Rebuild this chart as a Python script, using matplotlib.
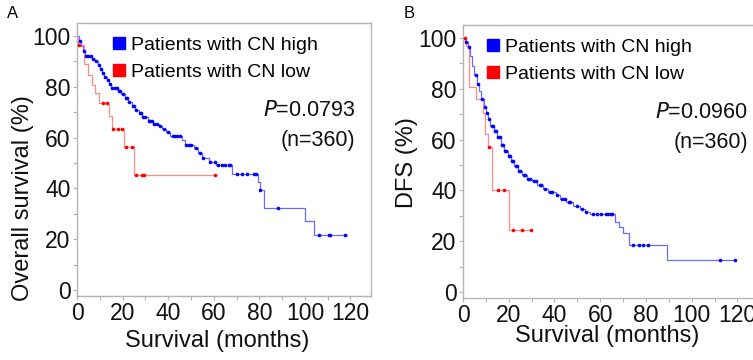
import numpy as np
import matplotlib
matplotlib.use("Agg")
import matplotlib.pyplot as plt
from matplotlib.lines import Line2D

plt.rcParams['font.family'] = ['Liberation Sans', 'DejaVu Sans']

# ---------------- Panel A: Overall survival ----------------
a_high_t = [0, 0.8, 1.8, 2.8, 3.5, 6.5, 8.0, 9.0, 10.0, 11.0, 12.0, 13.0, 14.0, 15.0, 18.0,
            19.5, 21.0, 22.5, 24.0, 25.5, 27.0, 28.5, 31.0, 33.5, 36.0, 37.5, 39.0, 41.0,
            46.0, 47.5, 51.5, 53.0, 55.0, 58.0, 61.0, 68.0, 79.3, 80.3, 82.0, 100.2, 103.9]
a_high_s = [100, 98, 96, 94, 92, 91, 90, 88.5, 87, 85.5, 84, 82.5, 81, 79.5, 78.5,
            77, 75.5, 74, 72.5, 71, 69.5, 68, 66.5, 65.5, 64.5, 63.2, 62, 60.5,
            59, 57.2, 56.0, 54.0, 52.0, 50.5, 49.0, 45.8, 42.5, 39.4, 32.2, 27.0, 21.6]
a_high_end = 118.5
a_high_cens = [1.5, 3, 4, 5, 6, 7, 8.5, 9.5, 10.5, 11.5, 12.5, 13.5, 14.5, 15.5, 16.5, 17.5,
               18.5, 19, 20, 21.5, 22, 23, 24.5, 25, 26, 27.5, 28, 29, 30, 31.5, 32, 33, 34,
               35, 36.5, 38, 40, 42, 43, 44, 45, 48, 49, 50, 52, 54, 55.5, 58.5, 60.7, 62,
               63.5, 65, 66.5, 67.3, 70.2, 72.4, 74.6, 77.8, 78.7, 80.4, 88, 106, 110.5,
               111.2, 117.8]

a_low_t = [0, 0.4, 3.1, 5.0, 6.4, 7.9, 9.8, 14.2, 15.5, 20.8, 24.8]
a_low_s = [100, 96.5, 89.0, 84.6, 80.7, 77.4, 73.5, 68.5, 63.4, 56.4, 45.3]
a_low_end = 60.5
a_low_cens = [0.8, 11.6, 13.0, 16.0, 18.2, 19.6, 21.4, 24.0, 26.0, 28.6, 29.6, 60.5]

# ---------------- Panel B: DFS ----------------
b_high_t = [0, 1.0, 2.0, 3.0, 4.0, 5.0, 6.0, 7.0, 8.0, 9.0, 10.0, 11.0, 12.0, 13.5, 15.0,
            16.5, 18.0, 19.5, 21.0, 22.5, 24.0, 26.0, 28.0, 30.0, 32.5, 35.0, 37.0, 40.5,
            42.5, 45.0, 48.0, 51.0, 53.5, 55.5, 66.4, 68.0, 70.0, 72.8, 89.4]
b_high_s = [100, 98.5, 96.5, 93, 89, 85.5, 82, 79, 76, 73, 70.5, 68, 65.5, 63.5, 61,
            58, 55.5, 53.5, 51.5, 49.5, 47.5, 46, 44.5, 43.5, 42, 40.5, 39.5, 38,
            36.5, 35.5, 34, 32.5, 31.5, 30.5, 27.7, 25.5, 23.1, 18.5, 12.6]
b_high_end = 118.9
b_high_cens = [1.5, 2.5, 5.5, 6.5, 8.5, 9.5, 10.5, 11.5, 12.5, 13, 14, 14.5, 15.5, 16, 17,
               17.5, 18.5, 19, 20, 20.5, 21.5, 22, 23, 23.5, 24.5, 25, 26.5, 27, 28.5, 29.5,
               31, 32, 33.5, 34, 36, 38, 39, 41, 43.5, 44.5, 46.5, 47, 50, 52, 54, 57, 58.5,
               60.5, 62.5, 63.5, 64.5, 65, 74.2, 77, 78.5, 80.7, 112.6, 118.9]

b_low_t = [0, 1.5, 2.8, 5.5, 8.6, 9.8, 11.0, 12.7, 20.3]
b_low_s = [100, 97, 80.6, 76.0, 70.5, 62.0, 57.2, 40.2, 24.4]
b_low_end = 29.7
b_low_cens = [1.0, 11.5, 15.2, 17.8, 21.8, 26.0, 29.7]

legend_labels = ["Patients with CN high", "Patients with CN low"]
panel_info = [
    dict(letter="A", ylabel="Overall survival (%)", p="0.0793", n="(n=360)"),
    dict(letter="B", ylabel="DFS (%)", p="0.0960", n="(n=360)"),
]

BLUE_LINE, BLUE_DOT = '#6b6bff', '#0000ff'
RED_LINE, RED_DOT = '#ff8a8a', '#ff0000'
SPINE = '#b4b4b4'
TXT = '#111111'


def km(ax, t, s, end, cens, lc, dc):
    tt = list(t) + [end]
    ss = list(s) + [s[-1]]
    ax.step(tt, ss, where='post', color=lc, lw=0.9, zorder=2)
    t_arr = np.array(t)
    idx = np.searchsorted(t_arr, np.array(cens), side='right') - 1
    cs = np.array(s)[idx]
    ax.plot(cens, cs, linestyle='none', marker='o', ms=2.6, mec=dc, mfc=dc, mew=0, zorder=3)


fig = plt.figure(figsize=(7.53, 3.60), dpi=100)
axA = fig.add_axes([77 / 753, 64 / 360, 294 / 753, 273 / 360])
axB = fig.add_axes([463 / 753, 62 / 360, 295 / 753, 273 / 360])

km(axA, a_high_t, a_high_s, a_high_end, a_high_cens, BLUE_LINE, BLUE_DOT)
km(axA, a_low_t, a_low_s, a_low_end, a_low_cens, RED_LINE, RED_DOT)
km(axB, b_high_t, b_high_s, b_high_end, b_high_cens, BLUE_LINE, BLUE_DOT)
km(axB, b_low_t, b_low_s, b_low_end, b_low_cens, RED_LINE, RED_DOT)

setup = [
    (axA, panel_info[0], 0.124, (-0.146, 0.36), (0.478, -0.125), (0.946, 0.681), (0.946, 0.571)),
    (axB, panel_info[1], 0.083, (-0.153, 0.495), (0.49, -0.10), (0.965, 0.681), (0.968, 0.568)),
]

for ax, info, legx, ylc, xlc, ppos, npos in setup:
    ax.set_xlim(0, 129)
    ax.set_ylim(-2.4, 105.1)
    ax.set_xticks(np.arange(0, 121, 20))
    ax.set_xticks(np.arange(0, 121, 10), minor=True)
    ax.set_yticks(np.arange(0, 101, 20))
    ax.set_yticks(np.arange(0, 101, 10), minor=True)
    for sp in ax.spines.values():
        sp.set_color(SPINE)
        sp.set_linewidth(1.0)
    ax.tick_params(which='both', direction='out', color=SPINE, length=3, width=0.8,
                   labelsize=16.5, pad=1.5, labelcolor=TXT)
    ax.set_ylabel(info["ylabel"], fontsize=17, color=TXT)
    ax.yaxis.set_label_coords(*ylc)
    ax.set_xlabel("Survival (months)", fontsize=17, color=TXT)
    ax.xaxis.set_label_coords(*xlc)
    handles = [Line2D([], [], marker='s', linestyle='none', color=BLUE_DOT, ms=8),
               Line2D([], [], marker='s', linestyle='none', color=RED_DOT, ms=8)]
    ax.legend(handles, legend_labels, loc='upper left', bbox_to_anchor=(legx, 0.95),
              frameon=False, fontsize=14, handlelength=0.6, handletextpad=0.3,
              borderpad=0, borderaxespad=0, labelspacing=0.45)
    ax.text(ppos[0], ppos[1], r"$\it{P}$" + "=" + info["p"], transform=ax.transAxes,
            ha='right', va='center', fontsize=15.5, color=TXT)
    ax.text(npos[0], npos[1], info["n"], transform=ax.transAxes,
            ha='right', va='center', fontsize=15.5, color=TXT)

fig.text(13 / 753, 1 - 14 / 360, "A", ha='center', va='center', fontsize=12)
fig.text(409 / 753, 1 - 14 / 360, "B", ha='center', va='center', fontsize=12)

fig.savefig("out.png", dpi=100)
